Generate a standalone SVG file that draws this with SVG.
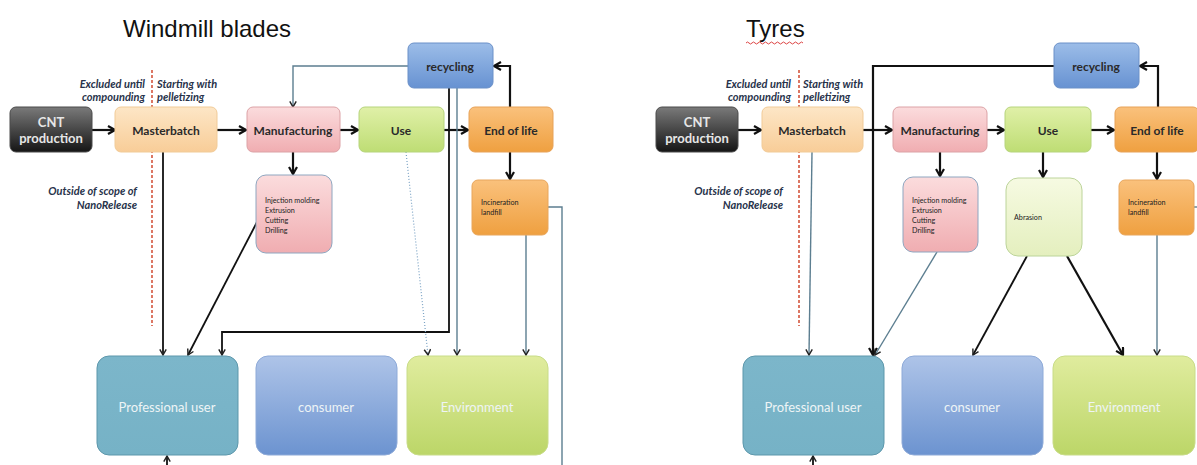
<svg xmlns="http://www.w3.org/2000/svg" width="1197" height="465" viewBox="0 0 1197 465">
  <defs>
    <linearGradient id="gCnt" x1="0" y1="0" x2="0" y2="1">
      <stop offset="0" stop-color="#7a7a7a"/><stop offset="1" stop-color="#151515"/>
    </linearGradient>
    <linearGradient id="gMb" x1="0" y1="0" x2="0" y2="1">
      <stop offset="0" stop-color="#fde6c6"/><stop offset="1" stop-color="#f8cd98"/>
    </linearGradient>
    <linearGradient id="gMan" x1="0" y1="0" x2="0" y2="1">
      <stop offset="0" stop-color="#fbdcdd"/><stop offset="1" stop-color="#f0adb1"/>
    </linearGradient>
    <linearGradient id="gUse" x1="0" y1="0" x2="0" y2="1">
      <stop offset="0" stop-color="#e0f0a8"/><stop offset="1" stop-color="#bedd74"/>
    </linearGradient>
    <linearGradient id="gEol" x1="0" y1="0" x2="0" y2="1">
      <stop offset="0" stop-color="#fac17c"/><stop offset="1" stop-color="#efa040"/>
    </linearGradient>
    <linearGradient id="gRec" x1="0" y1="0" x2="0" y2="1">
      <stop offset="0" stop-color="#9cbde8"/><stop offset="1" stop-color="#6792d2"/>
    </linearGradient>
    <linearGradient id="gAbr" x1="0" y1="0" x2="0" y2="1">
      <stop offset="0" stop-color="#f6fae2"/><stop offset="1" stop-color="#e4efbe"/>
    </linearGradient>
    <linearGradient id="gPro" x1="0" y1="0" x2="0" y2="1">
      <stop offset="0" stop-color="#7cb6ca"/><stop offset="1" stop-color="#76b2c6"/>
    </linearGradient>
    <linearGradient id="gCon" x1="0" y1="0" x2="0" y2="1">
      <stop offset="0" stop-color="#aec4e8"/><stop offset="1" stop-color="#6c93d0"/>
    </linearGradient>
    <linearGradient id="gEnv" x1="0" y1="0" x2="0" y2="1">
      <stop offset="0" stop-color="#e0ec9e"/><stop offset="1" stop-color="#bcd668"/>
    </linearGradient>
    <marker id="ah" viewBox="0 0 10 10" refX="9" refY="5" markerWidth="10" markerHeight="10" markerUnits="userSpaceOnUse" orient="auto">
      <path d="M2,1 L9,5 L2,9" fill="none" stroke="#111" stroke-width="2.2"/>
    </marker>
    <marker id="ahs" viewBox="0 0 10 10" refX="9" refY="5" markerWidth="8" markerHeight="8" markerUnits="userSpaceOnUse" orient="auto">
      <path d="M2,1 L9,5 L2,9" fill="none" stroke="#222" stroke-width="1.8"/>
    </marker>
  </defs>
  <style>
    .title { font-family: "Liberation Sans", Arial, sans-serif; font-size: 24px; fill: #111; }
    .lbl { font-family: Lato, "Open Sans", sans-serif; font-size: 12px; font-weight: bold; fill: #2a2a2a; text-anchor: middle; }
    .lblc { font-family: Lato, "Open Sans", sans-serif; font-size: 13px; font-weight: bold; fill: #e6e6e6; text-anchor: middle; }
    .lblw { font-family: Lato, "Open Sans", sans-serif; font-size: 13px; fill: #eef4f6; text-anchor: middle; }
    .small { font-family: Lato, "Open Sans", sans-serif; font-size: 7.2px; fill: #222; }
    .note { font-family: Lato, "Open Sans", sans-serif; font-size: 11px; font-style: italic; font-weight: bold; fill: #27324a; }
    .end { text-anchor: end; }
    .thick { fill: none; stroke: #111; stroke-width: 2.2; marker-end: url(#ah); }
    .med { fill: none; stroke: #111; stroke-width: 1.8; marker-end: url(#ahs); }
    .thin { fill: none; stroke: #5c7e90; stroke-width: 1.4; marker-end: url(#ahs); }
    .thinnm { fill: none; stroke: #5c7e90; stroke-width: 1.4; }
    .dots { fill: none; stroke: #7aa2c4; stroke-width: 1.2; stroke-dasharray: 1 2; marker-end: url(#ahs); }
    .scope { fill: none; stroke: #d4553e; stroke-width: 1.6; stroke-dasharray: 3 2; }
  </style>

  <!-- panel titles -->
  <text class="title" x="123" y="37">Windmill blades</text>
  <text class="title" x="746" y="37" font-size="23">Tyres</text>
  <path d="M746,43 q1.5,-2 3,0 t3,0 t3,0 t3,0 t3,0 t3,0 t3,0 t3,0 t3,0 t3,0 t3,0 t3,0 t3,0 t3,0 t3,0 t3,0 t3,0 t3,0 t3,0" fill="none" stroke="#d44" stroke-width="1"/>

  <!-- scope boundaries and notes -->
  <g id="scope-left">
    <line class="scope" x1="152" y1="70" x2="152" y2="326"/>
    <text class="note end" x="145" y="88">Excluded until</text>
    <text class="note end" x="145" y="101">compounding</text>
    <text class="note" x="157" y="88">Starting with</text>
    <text class="note" x="157" y="101">pelletizing</text>
    <text class="note end" x="137" y="195">Outside of scope of</text>
    <text class="note end" x="137" y="209">NanoRelease</text>
  </g>
  <g id="scope-right">
    <line class="scope" x1="799" y1="70" x2="799" y2="326"/>
    <text class="note end" x="791" y="88">Excluded until</text>
    <text class="note end" x="791" y="101">compounding</text>
    <text class="note" x="803" y="88">Starting with</text>
    <text class="note" x="803" y="101">pelletizing</text>
    <text class="note end" x="783" y="195">Outside of scope of</text>
    <text class="note end" x="783" y="209">NanoRelease</text>
  </g>

  <!-- connectors -->
  <g id="connectors">
    <!-- windmill blades -->
    <path class="thick" d="M92,130 H115"/>
    <path class="thick" d="M217,130 H246"/>
    <path class="thick" d="M340,130 H358"/>
    <path class="thick" d="M444,130 H468"/>
    <path class="thick" d="M510,107 V66 H494"/>
    <path class="thin" d="M408,66 H293 V107"/>
    <path class="thick" d="M293,152 V174"/>
    <path class="med" d="M257,222 L188,355"/>
    <path class="med" d="M163,152 V355"/>
    <path class="med" d="M449,88 V332 H222 V355"/>
    <path class="thin" d="M457,88 V355"/>
    <path class="dots" d="M406,152 L428,355"/>
    <path class="thick" d="M510,152 V179"/>
    <path class="thin" d="M526,235 V355"/>
    <path class="thinnm" d="M548,207 H562 V465"/>
    <path class="med" d="M167,468 V456"/>
    <!-- tyres -->
    <path class="thick" d="M738,130 H761"/>
    <path class="thick" d="M863,130 H892"/>
    <path class="thick" d="M987,130 H1004"/>
    <path class="thick" d="M1091,130 H1114"/>
    <path class="thick" d="M1158,107 V66 H1140"/>
    <path class="thick" d="M1054,66 H873 V355"/>
    <path class="thin" d="M812,152 L809,355"/>
    <path class="thick" d="M940,152 V176"/>
    <path class="thin" d="M937,252 L875,355"/>
    <path class="thick" d="M1043,152 V177"/>
    <path class="med" d="M1027,256 L973,355"/>
    <path class="thick" d="M1067,256 L1123,355"/>
    <path class="thick" d="M1157,152 V179"/>
    <path class="thin" d="M1157,235 V355"/>
    <path class="thinnm" d="M1194,207 H1197"/>
    <path class="med" d="M813,468 V456"/>
  </g>

  <!-- windmill blades nodes -->
  <g id="w-cnt">
    <rect x="10" y="107" width="82" height="45" rx="6" fill="url(#gCnt)" stroke="#4a4a4a"/>
    <text class="lblc" x="51" y="127">CNT</text>
    <text class="lblc" x="51" y="143">production</text>
  </g>
  <g id="w-masterbatch">
    <rect x="115" y="107" width="102" height="45" rx="6" fill="url(#gMb)" stroke="#f1cb98"/>
    <text class="lbl" x="166" y="135">Masterbatch</text>
  </g>
  <g id="w-manufacturing">
    <rect x="247" y="107" width="93" height="45" rx="6" fill="url(#gMan)" stroke="#dca2a6"/>
    <text class="lbl" x="293" y="135">Manufacturing</text>
  </g>
  <g id="w-use">
    <rect x="359" y="107" width="85" height="45" rx="6" fill="url(#gUse)" stroke="#b6d47c"/>
    <text class="lbl" x="401" y="135">Use</text>
  </g>
  <g id="w-endoflife">
    <rect x="469" y="107" width="84" height="45" rx="6" fill="url(#gEol)" stroke="#e7a258"/>
    <text class="lbl" x="511" y="135">End of life</text>
  </g>
  <g id="w-recycling">
    <rect x="408" y="43" width="85" height="45" rx="6" fill="url(#gRec)" stroke="#6a90c8"/>
    <text class="lbl" x="450" y="71">recycling</text>
  </g>
  <g id="w-processes">
    <rect x="256" y="175" width="76" height="78" rx="10" fill="url(#gMan)" stroke="#8fa6c0"/>
    <text class="small" x="265" y="203">Injection molding</text>
    <text class="small" x="265" y="213">Extrusion</text>
    <text class="small" x="265" y="223">Cutting</text>
    <text class="small" x="265" y="233">Drilling</text>
  </g>
  <g id="w-incineration">
    <rect x="472" y="180" width="76" height="55" rx="6" fill="url(#gEol)" stroke="#e8a65c"/>
    <text class="small" x="481" y="205">Incineration</text>
    <text class="small" x="481" y="215">landfill</text>
  </g>
  <g id="w-professional">
    <rect x="97" y="356" width="141" height="99" rx="12" fill="url(#gPro)" stroke="#5d97ab"/>
    <text class="lblw" x="167" y="412">Professional user</text>
  </g>
  <g id="w-consumer">
    <rect x="256" y="356" width="141" height="99" rx="12" fill="url(#gCon)" stroke="#8eaad8"/>
    <text class="lblw" x="326" y="412">consumer</text>
  </g>
  <g id="w-environment">
    <rect x="407" y="356" width="141" height="99" rx="12" fill="url(#gEnv)" stroke="#c8dc88"/>
    <text class="lblw" x="477" y="412" fill="#f2f6d6">Environment</text>
  </g>

  <!-- tyres nodes -->
  <g id="t-cnt">
    <rect x="656" y="107" width="82" height="45" rx="6" fill="url(#gCnt)" stroke="#4a4a4a"/>
    <text class="lblc" x="697" y="127">CNT</text>
    <text class="lblc" x="697" y="143">production</text>
  </g>
  <g id="t-masterbatch">
    <rect x="762" y="107" width="101" height="45" rx="6" fill="url(#gMb)" stroke="#f1cb98"/>
    <text class="lbl" x="812" y="135">Masterbatch</text>
  </g>
  <g id="t-manufacturing">
    <rect x="893" y="107" width="94" height="45" rx="6" fill="url(#gMan)" stroke="#dca2a6"/>
    <text class="lbl" x="940" y="135">Manufacturing</text>
  </g>
  <g id="t-use">
    <rect x="1005" y="107" width="86" height="45" rx="6" fill="url(#gUse)" stroke="#b6d47c"/>
    <text class="lbl" x="1048" y="135">Use</text>
  </g>
  <g id="t-endoflife">
    <rect x="1115" y="107" width="84" height="45" rx="6" fill="url(#gEol)" stroke="#e7a258"/>
    <text class="lbl" x="1157" y="135">End of life</text>
  </g>
  <g id="t-recycling">
    <rect x="1054" y="43" width="85" height="45" rx="6" fill="url(#gRec)" stroke="#6a90c8"/>
    <text class="lbl" x="1096" y="71">recycling</text>
  </g>
  <g id="t-processes">
    <rect x="903" y="177" width="75" height="75" rx="10" fill="url(#gMan)" stroke="#8fa6c0"/>
    <text class="small" x="912" y="203">Injection molding</text>
    <text class="small" x="912" y="213">Extrusion</text>
    <text class="small" x="912" y="223">Cutting</text>
    <text class="small" x="912" y="233">Drilling</text>
  </g>
  <g id="t-abrasion">
    <rect x="1006" y="178" width="76" height="78" rx="12" fill="url(#gAbr)" stroke="#bcd49a"/>
    <text class="small" x="1014" y="220">Abrasion</text>
  </g>
  <g id="t-incineration">
    <rect x="1119" y="180" width="75" height="55" rx="6" fill="url(#gEol)" stroke="#e8a65c"/>
    <text class="small" x="1128" y="205">Incineration</text>
    <text class="small" x="1128" y="215">landfill</text>
  </g>
  <g id="t-professional">
    <rect x="743" y="356" width="141" height="99" rx="12" fill="url(#gPro)" stroke="#5d97ab"/>
    <text class="lblw" x="813" y="412">Professional user</text>
  </g>
  <g id="t-consumer">
    <rect x="902" y="356" width="141" height="99" rx="12" fill="url(#gCon)" stroke="#8eaad8"/>
    <text class="lblw" x="972" y="412">consumer</text>
  </g>
  <g id="t-environment">
    <rect x="1053" y="356" width="142" height="99" rx="12" fill="url(#gEnv)" stroke="#c8dc88"/>
    <text class="lblw" x="1124" y="412" fill="#f2f6d6">Environment</text>
  </g>
</svg>
